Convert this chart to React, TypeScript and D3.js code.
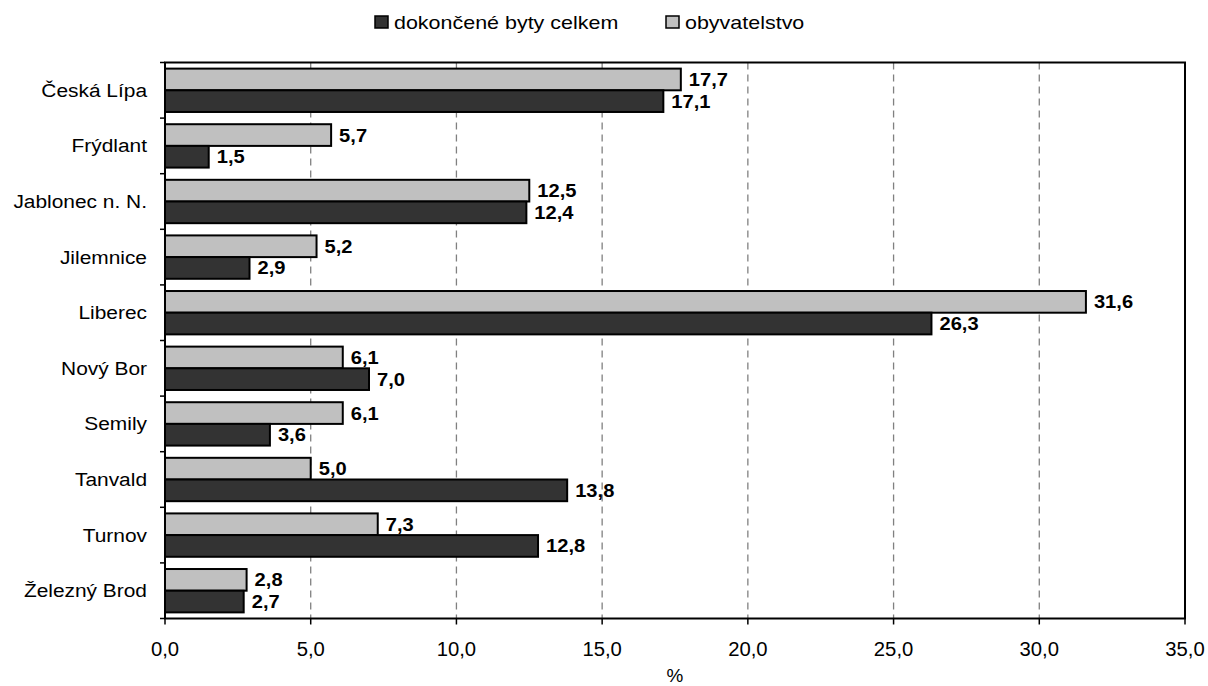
import React from "react";
import * as d3 from "d3";

const categories = ["Česká Lípa", "Frýdlant", "Jablonec n. N.", "Jilemnice", "Liberec", "Nový Bor", "Semily", "Tanvald", "Turnov", "Železný Brod"];
const byty = [17.1, 1.5, 12.4, 2.9, 26.3, 7.0, 3.6, 13.8, 12.8, 2.7];
const obyvatelstvo = [17.7, 5.7, 12.5, 5.2, 31.6, 6.1, 6.1, 5.0, 7.3, 2.8];
const xTicks = [0, 5, 10, 15, 20, 25, 30, 35];
const seriesNames = ["dokončené byty celkem", "obyvatelstvo"];
const colors = ["#333333", "#c0c0c0"];

const W = 1208, H = 686;
const left = 165, right = 1185, top = 62.5, bottom = 618.5;
const fmt = (v: number) => v.toFixed(1).replace(".", ",");
const font = "'Liberation Sans', Arial, sans-serif";

function T(props: { x: number; y: number; sx?: number; size: number; anchor?: string; bold?: boolean; children: React.ReactNode }) {
  const { x, y, sx = 1, size, anchor = "start", bold, children } = props;
  return (
    <text transform={`translate(${x},${y}) scale(${sx},1)`} fontSize={size} textAnchor={anchor} fontWeight={bold ? "bold" : "normal"}>
      {children}
    </text>
  );
}

export default function App() {
  const x = d3.scaleLinear().domain([0, 35]).range([left, right]);
  const y = d3.scaleBand().domain(categories).range([top, bottom]).paddingInner(0.22).paddingOuter(0.11);
  const bh = y.bandwidth() / 2;
  const ticksY = categories.map((c) => y(c)! - (y.step() * 0.22) / 2).concat([bottom]);
  return (
    <svg width={W} height={H} style={{ position: "absolute", left: 0, top: 0 }} fontFamily={font}>
      <rect width={W} height={H} fill="#fff" />
      {/* legend */}
      {[{ x: 375, c: 0 }, { x: 666, c: 1 }].map((l) => (
        <g key={l.c}>
          <rect x={l.x} y={16} width={13} height={12} fill={colors[l.c]} stroke="#000" strokeWidth={1.5} />
          <T x={l.x + 19} y={28.5} size={19} sx={1.13}>{seriesNames[l.c]}</T>
        </g>
      ))}
      {/* grid */}
      {xTicks.slice(1, -1).map((t) => (
        <line key={t} x1={x(t)} x2={x(t)} y1={top} y2={bottom} stroke="#808080" strokeWidth={1.3} strokeDasharray="7,5" />
      ))}
      {/* bars */}
      {categories.map((c, i) => {
        const y0 = y(c)!;
        return (
          <g key={c}>
            <rect x={x(0)} y={y0} width={x(obyvatelstvo[i]) - x(0)} height={bh} fill={colors[1]} stroke="#000" strokeWidth={2} />
            <rect x={x(0)} y={y0 + bh} width={x(byty[i]) - x(0)} height={bh} fill={colors[0]} stroke="#000" strokeWidth={2} />
            <T x={x(obyvatelstvo[i]) + 8} y={y0 + bh / 2 + 6.5} size={19} sx={1.06} bold>{fmt(obyvatelstvo[i])}</T>
            <T x={x(byty[i]) + 8} y={y0 + bh + bh / 2 + 6.5} size={19} sx={1.06} bold>{fmt(byty[i])}</T>
            <T x={147} y={y0 + bh + 6.5} size={19} sx={1.1} anchor="end">{c}</T>
          </g>
        );
      })}
      {/* frame */}
      <rect x={left} y={top} width={right - left} height={bottom - top} fill="none" stroke="#000" strokeWidth={2} />
      {ticksY.map((t, i) => (
        <line key={i} x1={left - 5} x2={left} y1={t} y2={t} stroke="#000" strokeWidth={1.5} />
      ))}
      {xTicks.map((t) => (
        <g key={t}>
          <line x1={x(t)} x2={x(t)} y1={bottom} y2={bottom + 6} stroke="#000" strokeWidth={1.5} />
          <T x={x(t)} y={656} size={19.5} sx={1.04} anchor="middle">{fmt(t)}</T>
        </g>
      ))}
      <T x={(left + right) / 2} y={682} size={18} sx={1.05} anchor="middle">%</T>
    </svg>
  );
}
